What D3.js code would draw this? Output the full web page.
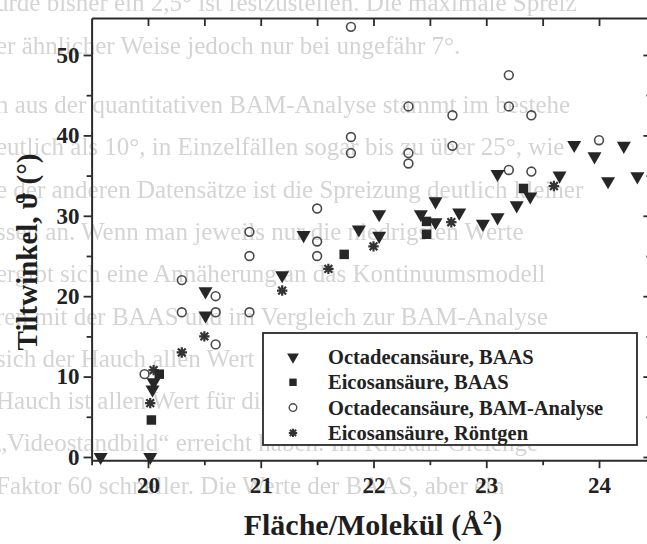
<!DOCTYPE html>
<html>
<head>
<meta charset="utf-8">
<script src="https://cdn.jsdelivr.net/npm/d3@7"></script>
<style>
  html, body { margin: 0; padding: 0; background: #fff; }
  svg { display: block; }
</style>
</head>
<body>
<svg id="chart" width="647" height="544"></svg>
<script>
// Tilt angle vs. area per molecule for two fatty acids, four measurement series
const octBaasX = [19.58, 20.02, 20.05, 20.04, 20.51, 20.51, 21.19, 21.38, 21.87, 22.05, 22.05, 22.42, 22.55, 22.55, 22.76, 22.97, 23.10, 23.27, 23.10, 23.39, 23.65, 23.78, 23.96, 24.08, 24.22, 24.34];
const octBaasY = [0, 0, 9.3, 8.4, 20.6, 17.6, 22.6, 27.6, 28.3, 30.2, 27.5, 30.2, 31.8, 29.2, 30.4, 29.0, 29.8, 31.3, 35.2, 32.4, 35.0, 38.8, 37.4, 34.3, 38.7, 34.9];

const eicBaasX = [20.03, 20.10, 21.74, 22.47, 22.47, 23.33];
const eicBaasY = [4.6, 10.3, 25.2, 29.3, 27.7, 33.4];

const octBamX = [19.97, 20.30, 20.30, 20.60, 20.60, 20.60, 20.90, 20.90, 20.90, 21.50, 21.50, 21.50, 21.80, 21.80, 21.80, 22.31, 22.31, 22.31, 22.70, 22.70, 23.20, 23.20, 23.20, 23.40, 23.40, 24.00];
const octBamY = [10.3, 22.0, 18.0, 20.0, 18.0, 14.0, 28.0, 25.0, 18.0, 30.9, 26.8, 25.0, 53.5, 39.8, 37.8, 43.6, 37.8, 36.5, 42.5, 38.7, 47.5, 43.6, 35.7, 42.5, 35.5, 39.4];

const eicRoeX = [20.02, 20.05, 20.30, 20.50, 21.19, 21.60, 22.00, 22.69, 23.60];
const eicRoeY = [6.7, 10.8, 13.0, 15.0, 20.7, 23.4, 26.2, 29.2, 33.7];

const seriesNames = ["Octadecansäure, BAAS", "Eicosansäure, BAAS", "Octadecansäure, BAM-Analyse", "Eicosansäure, Röntgen"];

const xMajorTicks = [20, 21, 22, 23, 24];
const xMinorTicks = [19.5, 20.5, 21.5, 22.5, 23.5];
const yMajorTicks = [0, 10, 20, 30, 40, 50];
const yMinorTicks = [5, 15, 25, 35, 45];

const xTitle = "Fläche/Molekül (Å";
const xTitleSup = "2";
const yTitle = "Tiltwinkel, ϑ (°)";

// Faint text of the printed page showing through the scan
const pageText = [
  "urde bisher ein 2,5° ist festzustellen. Die maximale Spreiz",
  "er ähnlicher Weise jedoch nur bei ungefähr 7°.",
  "n aus der quantitativen BAM-Analyse stammt im bestehe",
  "eutlich als 10°, in Einzelfällen sogar bis zu über 25°, wie",
  "e der anderen Datensätze ist die Spreizung deutlich kleiner",
  "ssen an. Wenn man jeweils nur die niedrigsten Werte",
  "ergibt sich eine Annäherung an das Kontinuumsmodell",
  "ren mit der BAAS und im Vergleich zur BAM-Analyse",
  "sich der Hauch allen Wert für die Werte jeweils aus p",
  "Hauch ist allen Wert für die Ergebnisse jeweils aus p",
  "„Videostandbild“ erreicht haben. Im Kristall-Gleichge",
  "Faktor 60 schneller. Die Werte der BAAS, aber ein"
];

const W = 647, H = 544;
const serif = "'Liberation Serif', 'Times New Roman', serif";
const ink = "#2b2b2b";

const svg = d3.select("#chart");

const defs = svg.append("defs");
defs.append("filter").attr("id", "soft")
  .append("feGaussianBlur").attr("stdDeviation", 0.7);

// page text layer
const pg = svg.append("g").attr("fill", "#d4d4d4").attr("filter", "url(#soft)")
  .style("font-family", serif).style("font-size", "25px");
pg.selectAll("text").data(pageText).join("text")
  .attr("x", -4)
  .attr("y", (d, i) => i < 2 ? 11 + i * 42.5 : 113 + (i - 2) * 42.3)
  .text(d => d);

const x = d3.scaleLinear().domain([19.5, 24.5]).range([91.6, 655.4]);
const y = d3.scaleLinear().domain([-0.4, 54.6]).range([460.2, 18]);

const axisStyle = g => {
  g.select(".domain").attr("stroke", ink).attr("stroke-width", 2);
  g.selectAll(".tick line").attr("stroke", ink).attr("stroke-width", 1.8);
  g.selectAll(".tick text").attr("fill", "#222")
    .style("font-family", serif).style("font-weight", "bold").style("font-size", "23px");
};

// bottom axis
svg.append("g").attr("transform", `translate(0,${y.range()[0]})`)
  .call(d3.axisBottom(x).tickValues(xMajorTicks).tickFormat(d3.format("d")).tickSizeInner(8).tickSizeOuter(0).tickPadding(8))
  .call(axisStyle);
svg.append("g").attr("transform", `translate(0,${y.range()[0]})`)
  .call(d3.axisBottom(x).tickValues(xMinorTicks).tickFormat("").tickSizeInner(5).tickSizeOuter(0))
  .call(g => g.select(".domain").remove())
  .call(g => g.selectAll(".tick line").attr("stroke", ink).attr("stroke-width", 1.8));

// top axis (ticks inward)
svg.append("g").attr("transform", `translate(0,${y.range()[1]})`)
  .call(d3.axisTop(x).tickValues(xMajorTicks.concat(xMinorTicks).filter(v => v > 19.6)).tickFormat("").tickSizeInner(-8).tickSizeOuter(0))
  .call(axisStyle);

// left axis
svg.append("g").attr("transform", `translate(${x.range()[0]},0)`)
  .call(d3.axisLeft(y).tickValues(yMajorTicks).tickFormat(d3.format("d")).tickSizeInner(8).tickSizeOuter(0).tickPadding(4))
  .call(axisStyle);
svg.append("g").attr("transform", `translate(${x.range()[0]},0)`)
  .call(d3.axisLeft(y).tickValues(yMinorTicks).tickFormat("").tickSizeInner(5).tickSizeOuter(0))
  .call(g => g.select(".domain").remove())
  .call(g => g.selectAll(".tick line").attr("stroke", ink).attr("stroke-width", 1.8));

// right axis (ticks inward)
svg.append("g").attr("transform", `translate(${x.range()[1]},0)`)
  .call(d3.axisRight(y).tickValues(yMajorTicks).tickFormat("").tickSizeInner(-12).tickSizeOuter(0))
  .call(axisStyle);
svg.append("g").attr("transform", `translate(${x.range()[1]},0)`)
  .call(d3.axisRight(y).tickValues(yMinorTicks).tickFormat("").tickSizeInner(-9).tickSizeOuter(0))
  .call(g => g.select(".domain").remove())
  .call(g => g.selectAll(".tick line").attr("stroke", ink).attr("stroke-width", 1.8));

// axis titles
svg.append("text")
  .attr("x", 373).attr("y", 535).attr("text-anchor", "middle")
  .attr("fill", "#1e1e1e")
  .style("font-family", serif).style("font-weight", "bold").style("font-size", "30px")
  .call(t => {
    t.append("tspan").text(xTitle);
    t.append("tspan").attr("dy", -11).style("font-size", "19px").text(xTitleSup);
    t.append("tspan").attr("dy", 11).text(")");
  });

svg.append("text")
  .attr("transform", "translate(37,252) rotate(-90)")
  .attr("text-anchor", "middle").attr("fill", "#1e1e1e")
  .style("font-family", serif).style("font-weight", "bold").style("font-size", "29px")
  .text(yTitle);

// marker shapes
const triPath = d3.symbol(d3.symbolTriangle, 85)();
const sqPath = d3.symbol(d3.symbolSquare, 90)();
function starPath(r) {
  const a = r * 0.75;
  return `M${-a},${-a}L${a},${a}M${-a},${a}L${a},${-a}M0,${-r}L0,${r}M${-r},0L${r},0`;
}

const zip = (xs, ys) => xs.map((v, i) => [v, ys[i]]);
const marks = svg.append("g");

function drawTri(g, data) {
  g.selectAll(null).data(data).join("path")
    .attr("d", triPath)
    .attr("transform", d => `translate(${x(d[0])},${y(d[1])}) rotate(180)`)
    .attr("fill", "#262626");
}
function drawSq(g, data) {
  g.selectAll(null).data(data).join("path")
    .attr("d", sqPath)
    .attr("transform", d => `translate(${x(d[0])},${y(d[1])})`)
    .attr("fill", "#262626");
}
function drawCirc(g, data, r) {
  g.selectAll(null).data(data).join("circle")
    .attr("cx", d => x(d[0])).attr("cy", d => y(d[1])).attr("r", r)
    .attr("fill", "none").attr("stroke", "#4a4a4a").attr("stroke-width", 1.6);
}
function drawStar(g, data, r) {
  g.selectAll(null).data(data).join("path")
    .attr("d", starPath(r))
    .attr("transform", d => `translate(${x(d[0])},${y(d[1])})`)
    .attr("fill", "none").attr("stroke", "#333").attr("stroke-width", 2.2);
}

drawCirc(marks.append("g"), zip(octBamX, octBamY), 4.4);
drawStar(marks.append("g"), zip(eicRoeX, eicRoeY), 5.2);
drawSq(marks.append("g"), zip(eicBaasX, eicBaasY));
drawTri(marks.append("g"), zip(octBaasX, octBaasY));

// legend
const lg = svg.append("g");
lg.append("rect").attr("x", 263).attr("y", 333).attr("width", 374).attr("height", 112)
  .attr("fill", "#fff").attr("stroke", ink).attr("stroke-width", 1.8);
const rowY = i => 357 + i * 25.3;
const symX = 293;
lg.append("path").attr("d", d3.symbol(d3.symbolTriangle, 60)())
  .attr("transform", `translate(${symX},${rowY(0)}) rotate(180)`).attr("fill", "#262626");
lg.append("path").attr("d", d3.symbol(d3.symbolSquare, 55)())
  .attr("transform", `translate(${symX},${rowY(1)})`).attr("fill", "#262626");
lg.append("circle").attr("cx", symX).attr("cy", rowY(2)).attr("r", 3.8)
  .attr("fill", "none").attr("stroke", "#4a4a4a").attr("stroke-width", 1.4);
lg.append("path").attr("d", starPath(4.2))
  .attr("transform", `translate(${symX},${rowY(3)})`)
  .attr("fill", "none").attr("stroke", "#333").attr("stroke-width", 2);
lg.selectAll("text.leg").data(seriesNames).join("text")
  .attr("class", "leg")
  .attr("x", 328).attr("y", (d, i) => rowY(i) + 7)
  .attr("fill", "#222")
  .style("font-family", serif).style("font-weight", "bold").style("font-size", "20.5px")
  .text(d => d);
</script>
</body>
</html>
